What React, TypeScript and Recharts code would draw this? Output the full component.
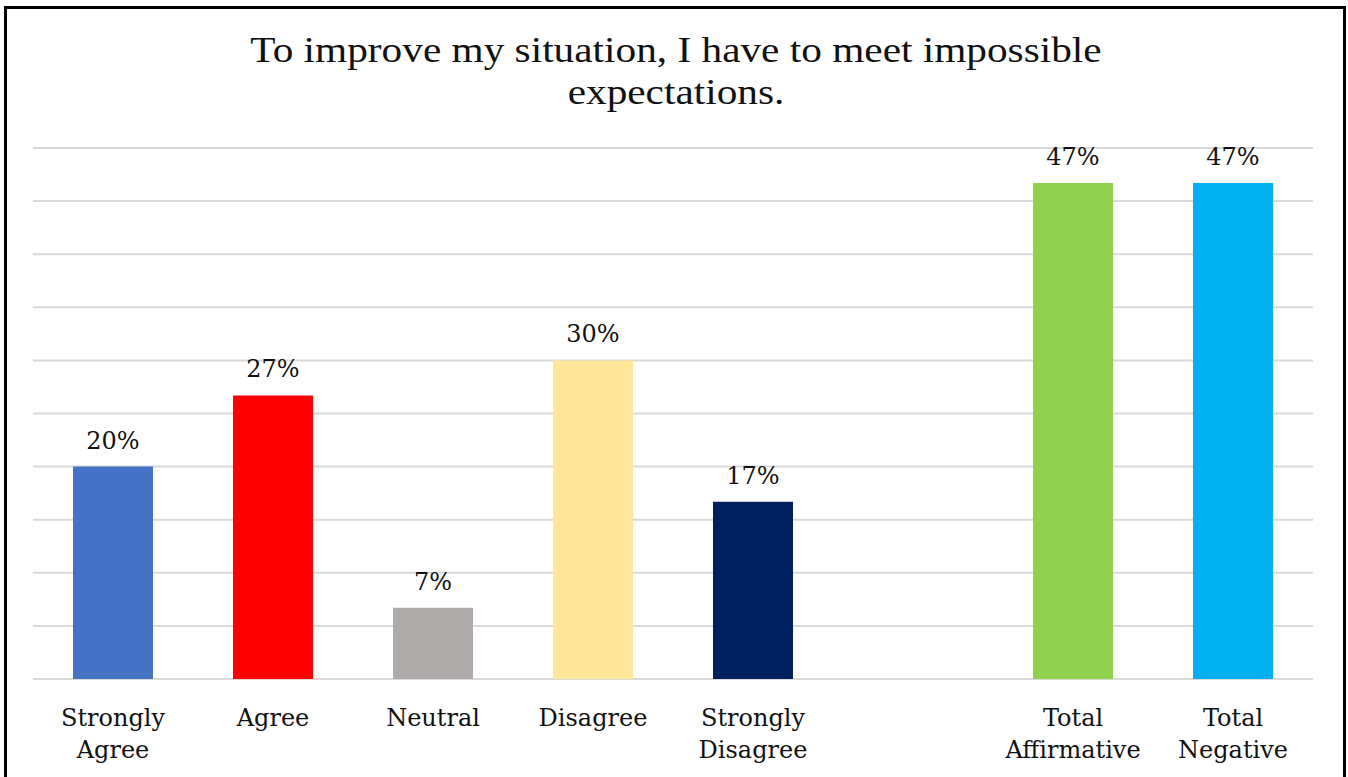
import React from "react";
import { BarChart, Bar, XAxis, YAxis, CartesianGrid, Cell } from "recharts";

const categories = ["Strongly Agree", "Agree", "Neutral", "Disagree", "Strongly Disagree", " ", "Total Affirmative", "Total Negative"];
const values: (number | null)[] = [20, 26.7, 6.7, 30, 16.7, null, 46.7, 46.7];
const colors = ["#4472C4", "#FF0000", "#AEAAAA", "#FFE699", "#002060", "#FFFFFF", "#92D050", "#00B0F0"];
const yTicks = [0, 5, 10, 15, 20, 25, 30, 35, 40, 45, 50];
const titleLines = ["To improve my situation, I have to meet impossible", "expectations."];

const data = categories.map((c, i) => ({ name: c, value: values[i], color: colors[i] }));

const LABEL_FONT = "'DejaVu Serif', serif";

const CatTick = (props: any) => {
  const { x, y, payload } = props;
  const words = String(payload.value).trim().split(" ");
  return (
    <g transform={`translate(${x},${y})`}>
      {words.map((w: string, i: number) => (
        <text key={i} x={0} y={i * 32} dy={39} textAnchor="middle" fill="#111" fontFamily={LABEL_FONT} fontSize={24}>
          {w}
        </text>
      ))}
    </g>
  );
};

const ValueLabel = (p: any) => {
  const { x, y, width, value } = p;
  if (value == null) return null;
  return (
    <text x={x + width / 2} y={y - 18} textAnchor="middle" fill="#111" fontFamily={LABEL_FONT} fontSize={24}>
      {`${Math.round(value)}%`}
    </text>
  );
};

export default function App() {
  return (
    <div style={{ position: "absolute", left: 0, top: 0, width: 1348, height: 777, overflow: "hidden", background: "#fff" }}>
      <div style={{ position: "absolute", left: 4, top: 6, width: 1342, height: 800, border: "3px solid #000", boxSizing: "border-box" }} />
      <svg style={{ position: "absolute", left: 0, top: 0 }} width={1348} height={130}>
        <g transform="translate(676,0) scale(1.18,1)">
          {titleLines.map((t, i) => (
            <text key={i} x={0} y={62 + i * 42} textAnchor="middle" fontFamily="'Liberation Serif', serif" fontSize={35} fill="#111">
              {t}
            </text>
          ))}
        </g>
      </svg>
      <div style={{ position: "absolute", left: 0, top: 0 }}>
        <BarChart width={1348} height={777} data={data} margin={{ top: 148, left: 33, right: 35, bottom: 38 }} barSize={80}>
          <CartesianGrid vertical={false} stroke="#d9d9d9" strokeWidth={2} />
          <YAxis hide domain={[0, 50]} ticks={yTicks} />
          <XAxis dataKey="name" axisLine={false} tickLine={false} height={60} interval={0} tick={<CatTick />} />
          <Bar dataKey="value" isAnimationActive={false} fill="#4472C4" label={<ValueLabel />}>
            {data.map((d, i) => (
              <Cell key={`c${i}`} fill={d.color} />
            ))}
          </Bar>
        </BarChart>
      </div>
    </div>
  );
}
